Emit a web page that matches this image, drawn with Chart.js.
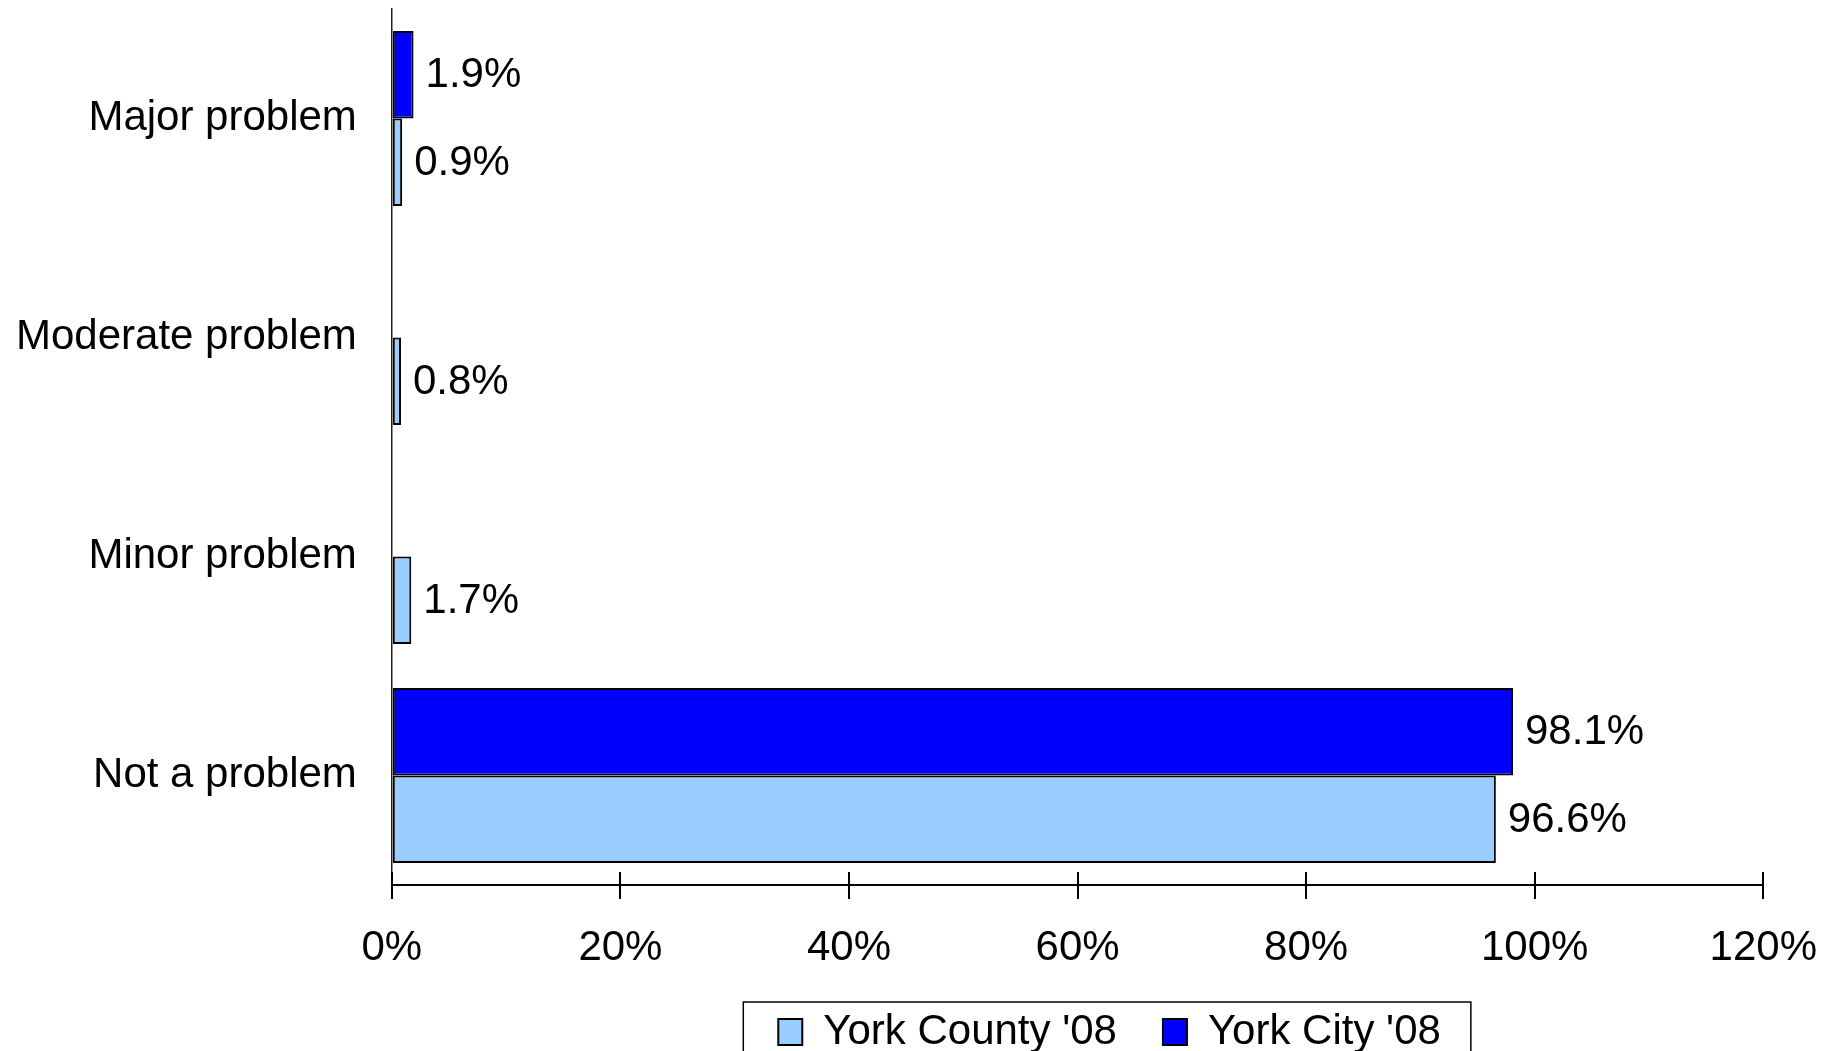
<!DOCTYPE html>
<html>
<head>
<meta charset="utf-8">
<script src="https://cdn.jsdelivr.net/npm/chart.js@4/dist/chart.umd.min.js"></script>
<style>
  html, body { margin: 0; padding: 0; background: #fff; overflow: hidden; }
</style>
</head>
<body>
<canvas id="chart" width="1841" height="1066"></canvas>
<script>
const categories = ["Major problem", "Moderate problem", "Minor problem", "Not a problem"];
const countyValues = [0.9, 0.8, 1.7, 96.6];
const cityValues = [1.9, null, null, 98.1];
const seriesNames = ["York County '08", "York City '08"];
const xMin = 0;
const xMax = 120;
const xStep = 20;

const FONT = '"Liberation Sans", Arial, sans-serif';
Chart.defaults.font.family = FONT;
Chart.defaults.font.size = 42;
Chart.defaults.color = "#000";

// value labels at the end of each bar
const valueLabels = {
    id: "valueLabels",
    afterDatasetsDraw(chart) {
        const ctx = chart.ctx;
        ctx.save();
        ctx.font = "42px " + FONT;
        ctx.fillStyle = "#000";
        ctx.textBaseline = "middle";
        ctx.textAlign = "left";
        chart.data.datasets.forEach((ds, i) => {
            chart.getDatasetMeta(i).data.forEach((bar, j) => {
                const v = ds.data[j];
                if (v === null || v === undefined) return;
                ctx.fillText(v.toFixed(1) + "%", bar.x + 12, bar.y + 1);
            });
        });
        ctx.restore();
    }
};

// tick marks cross the x axis: draw the part above the line
const crossTicks = {
    id: "crossTicks",
    afterDraw(chart) {
        const scale = chart.scales.x;
        const ctx = chart.ctx;
        ctx.save();
        ctx.strokeStyle = "#000";
        ctx.lineWidth = 2;
        scale.ticks.forEach(t => {
            const px = Math.round(scale.getPixelForValue(t.value));
            ctx.beginPath();
            ctx.moveTo(px, scale.top - 13);
            ctx.lineTo(px, scale.top);
            ctx.stroke();
        });
        ctx.restore();
    }
};

// legend sits a bit right of the plot centre, inside a framed box
const legendFrame = {
    id: "legendFrame",
    afterLayout(chart) {
        const lg = chart.legend;
        const shift = (chart.chartArea.left + chart.chartArea.right) / 2 + 32 - (lg.left + lg.right) / 2;
        lg.left += shift;
        lg.right += shift;
    },
    afterDraw(chart) {
        const hb = chart.legend.legendHitBoxes;
        if (!hb || !hb.length) return;
        const first = hb[0];
        const last = hb[hb.length - 1];
        const cy = first.top + first.height / 2;
        const ctx = chart.ctx;
        ctx.save();
        ctx.strokeStyle = "#000";
        ctx.lineWidth = 1.5;
        ctx.strokeRect(first.left - 35, cy - 30, (last.left + last.width + 30) - (first.left - 35), 66);
        ctx.restore();
    }
};

new Chart(document.getElementById("chart"), {
    type: "bar",
    data: {
        labels: categories,
        datasets: [
            {
                label: seriesNames[1],
                data: cityValues,
                backgroundColor: "#0000FF",
                borderColor: "#000",
                borderWidth: 2,
                borderSkipped: false
            },
            {
                label: seriesNames[0],
                data: countyValues,
                backgroundColor: "#99CCFF",
                borderColor: "#000",
                borderWidth: 2,
                borderSkipped: false
            }
        ]
    },
    options: {
        indexAxis: "y",
        responsive: false,
        animation: false,
        devicePixelRatio: 1,
        datasets: {
            bar: { categoryPercentage: 0.8, barPercentage: 1.0 }
        },
        layout: {
            padding: { left: 16, right: 76, top: 9, bottom: 3 }
        },
        scales: {
            x: {
                min: xMin,
                max: xMax,
                ticks: {
                    stepSize: xStep,
                    padding: 24,
                    color: "#000",
                    font: { size: 42 },
                    callback: v => v + "%"
                },
                grid: {
                    drawOnChartArea: false,
                    drawTicks: true,
                    tickLength: 14,
                    color: "#000",
                    lineWidth: 2
                },
                border: { display: true, color: "#000", width: 2 },
                afterFit(scale) { scale.height = 80; }
            },
            y: {
                ticks: {
                    padding: 35,
                    color: "#000",
                    font: { size: 42 }
                },
                grid: { display: false, drawTicks: false },
                border: { display: true, color: "#222", width: 1.5 },
                afterFit(scale) {
                    scale.width -= scale.options.ticks.padding;
                    scale.paddingTop = 0;
                    scale.paddingBottom = 0;
                }
            }
        },
        plugins: {
            legend: {
                position: "bottom",
                labels: {
                    boxWidth: 24,
                    boxHeight: 26,
                    padding: 46,
                    color: "#000",
                    font: { size: 42 },
                    sort: (a, b) => b.datasetIndex - a.datasetIndex
                }
            },
            tooltip: { enabled: false }
        }
    },
    plugins: [valueLabels, crossTicks, legendFrame]
});
</script>
</body>
</html>
